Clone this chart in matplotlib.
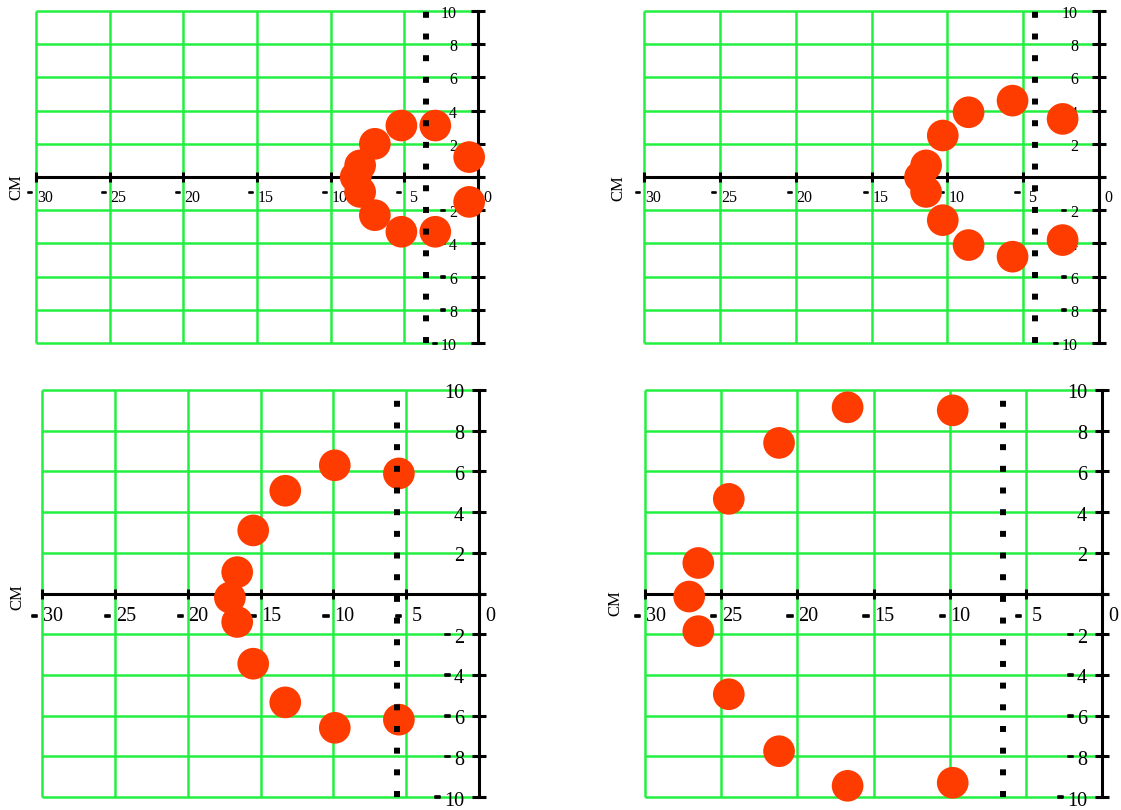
# four_panel_cm_scatter.py
"""
Four panels of red blobs on a green grid, Mathcad style.
- x from -30 to 0, y from -10 to 10 (cm)
- black axes through y=0 and x=0, dotted vertical marker line
"""

import matplotlib
matplotlib.use("Agg")
import matplotlib.pyplot as plt
import matplotlib.patheffects as pe
from matplotlib.transforms import offset_copy

# ---------------------------
# Data
# ---------------------------
X_TICKS = [-30, -25, -20, -15, -10, -5, 0]
Y_TICKS = [-10, -8, -6, -4, -2, 0, 2, 4, 6, 8, 10]
Y_LABELS = [-10, -8, -6, -4, -2, 2, 4, 6, 8, 10]

a_x = [-5.2, -2.9, -7.0, -8.0, -8.3, -8.0, -7.0, -5.2, -2.9, -0.6, -0.6]
a_y = [3.1, 3.1, 2.0, 0.7, 0.0, -0.9, -2.3, -3.3, -3.3, 1.2, -1.5]
a_dot = -3.5

b_x = [-5.7, -8.6, -10.3, -11.4, -11.8, -11.4, -10.3, -8.6, -5.7, -2.4, -2.4]
b_y = [4.6, 3.9, 2.5, 0.7, 0.0, -0.9, -2.6, -4.1, -4.8, 3.5, -3.8]
b_dot = -4.2

c_x = [-9.9, -5.5, -13.3, -15.5, -16.6, -17.1, -16.6, -15.5, -13.3, -9.9, -5.5]
c_y = [6.3, 5.9, 5.05, 3.1, 1.05, -0.2, -1.4, -3.45, -5.35, -6.6, -6.2]
c_dot = -5.6

d_x = [-16.7, -9.8, -21.2, -24.5, -26.5, -27.1, -26.5, -24.5, -21.2, -16.7, -9.8]
d_y = [9.15, 9.0, 7.4, 4.65, 1.5, -0.15, -1.85, -4.95, -7.75, -9.45, -9.3]
d_dot = -6.5

GREEN = "#22f040"
RED = "#ff3c00"
FONT = "Liberation Serif"

# ---------------------------
# Layout (pixels -> figure fractions), label style per row
# ---------------------------
W, H = 1121, 810
fig = plt.figure(figsize=(W / 100, H / 100), dpi=100)


def px_rect(x0, x1, ytop, ybot):
    return [x0 / W, (H - ybot) / H, (x1 - x0) / W, (ybot - ytop) / H]


TOP = dict(fs=11.5, xd_dx=9, xd_dy=-21, xm_dx=-3, xm_dy=-15, yd_dx=-21, yd_dy=-3)
BOT = dict(fs=14.5, xd_dx=11, xd_dy=-23, xm_dx=-4, xm_dy=-22, yd_dx=-15, yd_dy=-4)
DASH_FX = [pe.withStroke(linewidth=1.2, foreground="black")]

panels = [
    (px_rect(36, 478, 11, 343), a_x, a_y, a_dot, TOP, (-20, -10)),
    (px_rect(644, 1099, 11, 343), b_x, b_y, b_dot, TOP, (-26, -11)),
    (px_rect(42, 479, 390, 797), c_x, c_y, c_dot, BOT, (-25, -4)),
    (px_rect(645, 1102, 390, 797), d_x, d_y, d_dot, BOT, (-30, -10)),
]


def off(ax, dx, dy):
    return offset_copy(ax.transData, fig=fig, x=dx, y=dy, units="dots")


for rect, xs, ys, dot_x, st, cm_off in panels:
    ax = fig.add_axes(rect)
    ax.set_xlim(-30, 0)
    ax.set_ylim(-10, 10)
    ax.axis("off")
    fs = st["fs"]
    fs_px = fs * 100 / 72

    # green grid
    ax.vlines(X_TICKS[:-1], -10, 10, colors=GREEN, lw=1.8, clip_on=False, zorder=1)
    ax.hlines(Y_TICKS, -30, 0, colors=GREEN, lw=1.8, clip_on=False, zorder=1)

    # black axes with ticks
    ax.plot([-30, 0.35], [0, 0], color="black", lw=2.2, clip_on=False, zorder=2)
    ax.plot([0, 0], [-10, 10], color="black", lw=2.2, clip_on=False, zorder=2)
    ax.plot(X_TICKS, [0] * len(X_TICKS), ls="none", marker="|", ms=7.5,
            mew=2.2, color="black", clip_on=False, zorder=2)
    ax.plot([0] * len(Y_TICKS), Y_TICKS, ls="none", marker="_", ms=10.5,
            mew=2.2, color="black", clip_on=False, zorder=2)

    # x tick labels: digits right of tick, minus dash left of tick
    for v in X_TICKS:
        ax.text(v, 0, str(abs(v)), transform=off(ax, st["xd_dx"], st["xd_dy"]),
                ha="center", va="center", fontsize=fs, family=FONT, zorder=3)
        if v < 0:
            ax.text(v, 0, "-", transform=off(ax, st["xm_dx"], st["xm_dy"]),
                    ha="right", va="center", fontsize=fs, family=FONT,
                    fontweight="bold", path_effects=DASH_FX, zorder=3)

    # y tick labels left of the vertical axis
    for v in Y_LABELS:
        s = str(abs(v))
        ax.text(0, v, s, transform=off(ax, st["yd_dx"], st["yd_dy"]),
                ha="right", va="center", fontsize=fs, family=FONT, zorder=3)
        if v < 0:
            dash_dx = st["yd_dx"] - len(s) * 0.5 * fs_px - 3
            ax.text(0, v, "-", transform=off(ax, dash_dx, 0),
                    ha="right", va="center", fontsize=fs, family=FONT,
                    fontweight="bold", path_effects=DASH_FX, zorder=3)

    ax.text(-30, 0, "CM", transform=off(ax, cm_off[0], cm_off[1]), rotation=90,
            ha="center", va="center", fontsize=12, family=FONT)

    # red blobs, then dotted marker line on top
    ax.scatter(xs, ys, s=520, color=RED, edgecolors="none", clip_on=False, zorder=4)
    ax.vlines([dot_x], -10, 10, colors="black", lw=4.3, linestyles=[(0, (1, 2.63))],
              clip_on=False, zorder=5)

fig.savefig("out.png", dpi=100)
print("Saved figure to out.png")
